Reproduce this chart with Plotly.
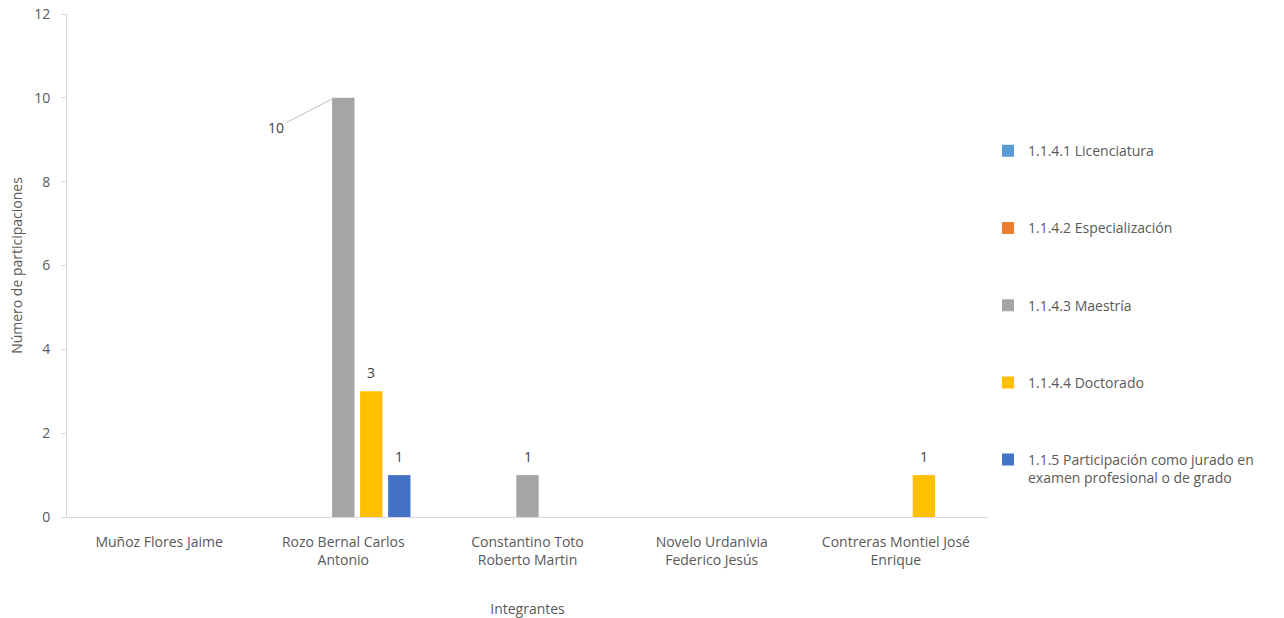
import plotly.graph_objects as go

categories = [
    "Muñoz Flores Jaime",
    "Rozo Bernal Carlos<br>Antonio",
    "Constantino Toto<br>Roberto Martin",
    "Novelo Urdanivia<br>Federico Jesús",
    "Contreras Montiel José<br>Enrique",
]
series_names = [
    "1.1.4.1 Licenciatura",
    "1.1.4.2 Especialización",
    "1.1.4.3 Maestría",
    "1.1.4.4 Doctorado",
    "1.1.5 Participación como jurado en<br>examen profesional o de grado",
]
licenciatura = [0, 0, 0, 0, 0]
especializacion = [0, 0, 0, 0, 0]
maestria = [0, 10, 1, 0, 0]
doctorado = [0, 3, 0, 0, 1]
jurado = [0, 1, 0, 0, 0]
colors = ["#5B9BD5", "#ED7D31", "#A5A5A5", "#FFC000", "#4472C4"]

series_values = [licenciatura, especializacion, maestria, doctorado, jurado]

FONT = "Open Sans, Noto Sans, sans-serif"
TXT = "#595959"
FS = 14

# layout geometry used to place value labels over the grouped bars
PLOT_W = 1284 - 67 - 296
BARGAP = 0.24
n_cat = len(categories)
n_ser = len(series_values)
slot_px = PLOT_W / n_cat * (1 - BARGAP) / n_ser

# the tallest value gets a callout label instead of an inline one
callout_series = 2
callout_idx = maestria.index(max(maestria))

fig = go.Figure()
for s, (name, vals, col) in enumerate(zip(series_names, series_values, colors)):
    fig.add_trace(go.Bar(
        x=categories, y=vals, name=name, marker_color=col,
        marker_line_width=0, legendgroup=f"g{s}",
    ))
    for i, v in enumerate(vals):
        if v and not (s == callout_series and i == callout_idx):
            fig.add_annotation(
                x=categories[i], y=v, text=str(v), showarrow=False,
                xshift=(s - (n_ser - 1) / 2) * slot_px, yshift=19,
                yanchor="middle",
                font=dict(family=FONT, size=FS, color="#404040"),
            )

fig.add_annotation(
    x=categories[callout_idx], y=maestria[callout_idx],
    text=str(maestria[callout_idx]), showarrow=True, arrowhead=0,
    arrowwidth=1, arrowcolor="#BFBFBF", xshift=-9,
    ax=-58, ay=30, standoff=0,
    font=dict(family=FONT, size=FS, color="#404040"),
)

fig.update_layout(
    width=1284, height=618,
    margin=dict(l=67, r=296, t=14, b=101, autoexpand=False),
    paper_bgcolor="white", plot_bgcolor="white",
    barmode="group", bargap=BARGAP, bargroupgap=0.2,
    font=dict(family=FONT, size=FS, color=TXT),
    showlegend=True,
    legend=dict(
        x=1.0, y=0.759, xanchor="left", yanchor="top",
        font=dict(family=FONT, size=FS, color=TXT),
        tracegroupgap=56, valign="top", itemwidth=30,
    ),
    xaxis=dict(
        title=dict(text="Integrantes", font=dict(family=FONT, size=FS, color=TXT), standoff=40),
        showline=True, linecolor="#D9D9D9", linewidth=1, automargin=False,
        ticks="", showgrid=False, ticklabelstandoff=12,
        tickfont=dict(family=FONT, size=FS, color=TXT),
    ),
    yaxis=dict(
        title=dict(text="Número de participaciones", font=dict(family=FONT, size=FS, color=TXT), standoff=8),
        range=[0, 12], dtick=2, showline=True, linecolor="#D9D9D9", linewidth=1,
        ticks="outside", ticklen=5, tickcolor="#D9D9D9", showgrid=False,
        zeroline=False, automargin=False, ticklabelstandoff=8,
        tickfont=dict(family=FONT, size=FS, color=TXT),
    ),
)

fig.write_html("out.html", config={"displayModeBar": False},
               post_script="document.body.style.margin='0';")
